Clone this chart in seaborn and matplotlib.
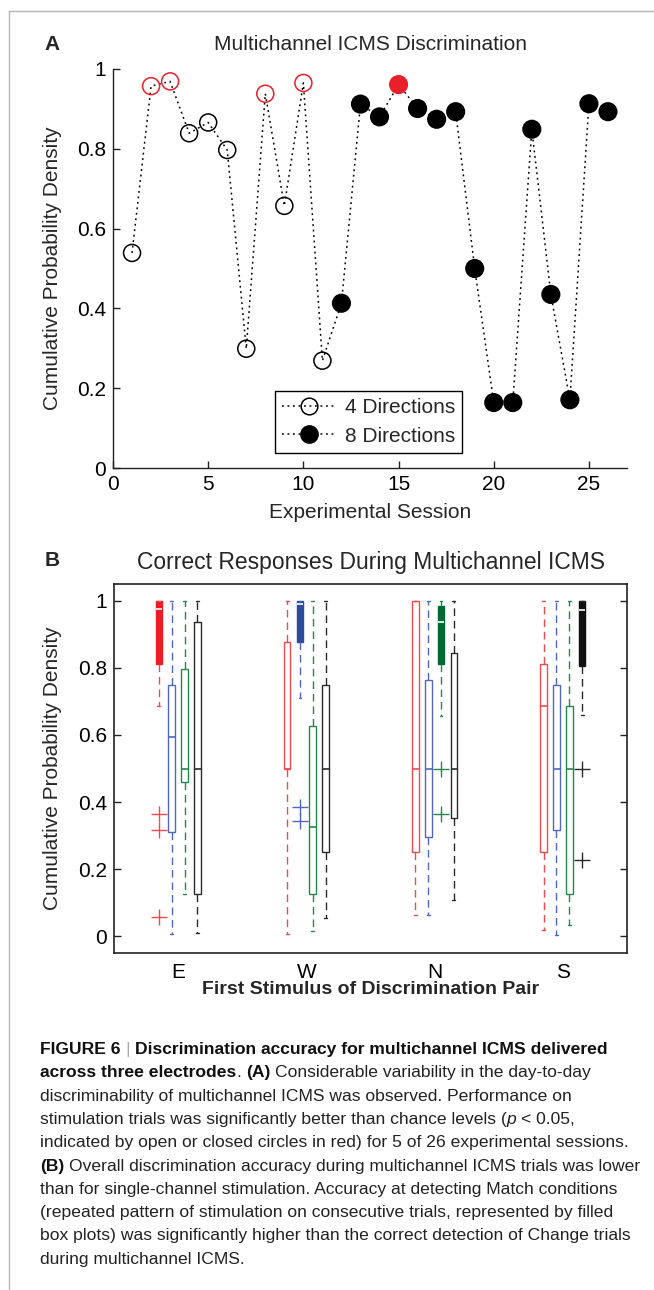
import matplotlib
matplotlib.use("Agg")
import matplotlib.pyplot as plt
import seaborn as sns
from matplotlib.lines import Line2D
from matplotlib.transforms import IdentityTransform

# ---- panel A data -------------------------------------------------------
sessions = [1, 2, 3, 4, 5, 6, 7, 8, 9, 10, 11, 12, 13,
            14, 15, 16, 17, 18, 19, 20, 21, 22, 23, 24, 25, 26]
accuracy = [0.539, 0.957, 0.969, 0.839, 0.866, 0.797, 0.299, 0.938, 0.657,
            0.965, 0.269, 0.413, 0.912, 0.880, 0.961, 0.901, 0.874, 0.893,
            0.500, 0.164, 0.164, 0.849, 0.435, 0.171, 0.913, 0.893]
n_directions = [4, 4, 4, 4, 4, 4, 4, 4, 4, 4, 4, 8, 8,
                8, 8, 8, 8, 8, 8, 8, 8, 8, 8, 8, 8, 8]
significant = [0, 1, 1, 0, 0, 0, 0, 1, 0, 1, 0, 0, 0,
               0, 1, 0, 0, 0, 0, 0, 0, 0, 0, 0, 0, 0]

# ---- panel B data (box stats per second stimulus, across first stimulus) --
first_stim = ["E", "W", "N", "S"]
second_stim = ["E", "W", "N", "S"]
q1 = {"E": [0.811, 0.500, 0.250, 0.250],
      "W": [0.310, 0.876, 0.296, 0.318],
      "N": [0.460, 0.125, 0.813, 0.125],
      "S": [0.125, 0.250, 0.351, 0.805]}
med = {"E": [0.974, 0.500, 0.500, 0.686],
       "W": [0.594, 0.990, 0.500, 0.500],
       "N": [0.500, 0.326, 0.937, 0.500],
       "S": [0.500, 0.500, 0.500, 0.972]}
q3 = {"E": [1.000, 0.876, 1.000, 0.811],
      "W": [0.750, 1.000, 0.765, 0.750],
      "N": [0.798, 0.626, 0.984, 0.686],
      "S": [0.937, 0.750, 0.843, 1.000]}
whis_lo = {"E": [0.686, 0.006, 0.063, 0.018],
           "W": [0.006, 0.709, 0.063, 0.003],
           "N": [0.125, 0.015, 0.656, 0.033],
           "S": [0.010, 0.054, 0.109, 0.659]}
whis_hi = {"E": [1.0, 1.0, 1.0, 1.0],
           "W": [1.0, 1.0, 1.0, 1.0],
           "N": [1.0, 1.0, 1.0, 1.0],
           "S": [1.0, 1.0, 1.0, 1.0]}
outliers = {"E": [[0.363, 0.316, 0.058], [], [], []],
            "W": [[], [0.386, 0.344], [], []],
            "N": [[], [], [0.500, 0.363], []],
            "S": [[], [], [], [0.500, 0.227]]}

line_col = {"E": "#f04a4f", "W": "#5166c6", "N": "#23894a", "S": "#2a2a2a"}
fill_col = {"E": "#ee1c25", "W": "#2d4c9e", "N": "#006a36", "S": "#111111"}

caption = [
    [("FIGURE 6 ", "bold", "normal", "#111"), ("|", "normal", "normal", "#aaa"),
     (" Discrimination accuracy for multichannel ICMS delivered", "bold", "normal", "#111")],
    [("across three electrodes", "bold", "normal", "#111"), (". ", "normal", "normal", "#222"),
     ("(A)", "bold", "normal", "#111"),
     (" Considerable variability in the day-to-day", "normal", "normal", "#222")],
    [("discriminability of multichannel ICMS was observed. Performance on", "normal", "normal", "#222")],
    [("stimulation trials was significantly better than chance levels (", "normal", "normal", "#222"),
     ("p", "normal", "italic", "#222"), (" < 0.05,", "normal", "normal", "#222")],
    [("indicated by open or closed circles in red) for 5 of 26 experimental sessions.", "normal", "normal", "#222")],
    [("(B)", "bold", "normal", "#111"),
     (" Overall discrimination accuracy during multichannel ICMS trials was lower", "normal", "normal", "#222")],
    [("than for single-channel stimulation. Accuracy at detecting Match conditions", "normal", "normal", "#222")],
    [("(repeated pattern of stimulation on consecutive trials, represented by filled", "normal", "normal", "#222")],
    [("box plots) was significantly higher than the correct detection of Change trials", "normal", "normal", "#222")],
    [("during multichannel ICMS.", "normal", "normal", "#222")],
]

# ---- figure ---------------------------------------------------------------
sns.set_theme(style="ticks")
plt.rcParams["font.family"] = ["Liberation Sans", "DejaVu Sans"]
plt.rcParams["axes.edgecolor"] = "#222222"

W, H = 654, 1290
fig = plt.figure(figsize=(W / 100, H / 100), dpi=100)
fig.patch.set_facecolor("white")
PX = IdentityTransform()


def px_axes(left, top, right, bottom):
    return fig.add_axes([left / W, 1 - bottom / H, (right - left) / W, (bottom - top) / H])


def ftext(x, y, s, **kw):
    return fig.text(x, H - y, s, transform=PX, **kw)


FS = 15

# ---- panel A ----------------------------------------------------------------
axA = px_axes(113, 69, 627, 468)
sns.lineplot(x=sessions, y=accuracy, ax=axA, color="black", linewidth=1.1,
             linestyle=(0, (1.2, 2.4)), sort=False, estimator=None)
for open_m in (True, False):
    xs = [s for s, n in zip(sessions, n_directions) if (n == 4) == open_m]
    ys = [a for a, n in zip(accuracy, n_directions) if (n == 4) == open_m]
    cs = ["#e8202a" if g else "black"
          for g, n in zip(significant, n_directions) if (n == 4) == open_m]
    if open_m:
        axA.scatter(xs, ys, s=150, facecolors="none", edgecolors=cs,
                    linewidths=1.1, zorder=3, clip_on=False)
    else:
        axA.scatter(xs, ys, s=190, c=cs, edgecolors="none", zorder=3, clip_on=False)

axA.set_xlim(0, 27)
axA.set_ylim(0, 1)
axA.set_xticks([0, 5, 10, 15, 20, 25])
axA.set_yticks([0, 0.2, 0.4, 0.6, 0.8, 1])
axA.set_yticklabels(["0", "0.2", "0.4", "0.6", "0.8", "1"])
axA.tick_params(direction="in", length=5, width=1, labelsize=FS, pad=5, colors="#222",
                labelcolor="black")
for sp in ("top", "right"):
    axA.spines[sp].set_visible(False)
for sp in ("left", "bottom"):
    axA.spines[sp].set_linewidth(1.0)
axA.set_xlabel("")
axA.set_ylabel("")

handles = [
    Line2D([], [], color="black", linestyle=(0, (1.2, 2.4)), linewidth=1.1,
           marker="o", markersize=12, markerfacecolor="none", markeredgewidth=1.1),
    Line2D([], [], color="black", linestyle=(0, (1.2, 2.4)), linewidth=1.1,
           marker="o", markersize=13.5, markerfacecolor="black", markeredgewidth=0),
]
leg = axA.legend(handles, ["4 Directions", "8 Directions"], loc="lower left",
                 bbox_to_anchor=(0.315, 0.0375), borderaxespad=0, fontsize=FS,
                 fancybox=False, framealpha=1, edgecolor="black",
                 handlelength=2.6, handletextpad=0.4, labelspacing=0.45,
                 borderpad=0.35)
leg.get_frame().set_linewidth(1.0)

ftext(370, 45, "Multichannel ICMS Discrimination", ha="center", va="center", fontsize=FS)
ftext(370, 513, "Experimental Session", ha="center", va="center", fontsize=FS)
ftext(53, 268, "Cumulative Probability Density", ha="center", va="center",
      rotation=90, fontsize=FS)
ftext(52, 44, "A", ha="center", va="center", fontsize=FS, fontweight="bold")

# ---- panel B ----------------------------------------------------------------
axB = px_axes(114, 584, 627, 953)
offsets = [-0.15, -0.05, 0.05, 0.15]
for j, d2 in enumerate(second_stim):
    for g, d1 in enumerate(first_stim):
        stats = [dict(med=med[d2][g], q1=q1[d2][g], q3=q3[d2][g],
                      whislo=whis_lo[d2][g], whishi=whis_hi[d2][g],
                      fliers=outliers[d2][g])]
        filled = d1 == d2
        c = fill_col[d2] if filled else line_col[d2]
        axB.bxp(stats, positions=[g + 1 + offsets[j]],
                widths=0.042 if filled else 0.052, capwidths=0.022,
                patch_artist=True, manage_ticks=False,
                boxprops=dict(facecolor=c if filled else "white", edgecolor=c, linewidth=1.0),
                medianprops=dict(color="white" if filled else c, linewidth=1.2),
                whiskerprops=dict(color=line_col[d2], linewidth=1.0, linestyle=(0, (5.5, 3.5))),
                capprops=dict(color=line_col[d2], linewidth=1.0),
                flierprops=dict(marker="+", markersize=11, markeredgewidth=1.0,
                                markeredgecolor=line_col[d2], linestyle="none"))

axB.set_xlim(0.5, 4.5)
axB.set_ylim(-0.05, 1.05)
axB.set_xticks([1, 2, 3, 4])
axB.set_xticklabels(first_stim)
axB.set_yticks([0, 0.2, 0.4, 0.6, 0.8, 1])
axB.set_yticklabels(["0", "0.2", "0.4", "0.6", "0.8", "1"])
axB.tick_params(axis="y", direction="in", length=5, width=1, left=True, right=True,
                labelsize=FS, pad=5, colors="#222", labelcolor="black")
axB.tick_params(axis="x", length=0, labelsize=FS, pad=7, labelcolor="black")
for sp in axB.spines.values():
    sp.set_linewidth(1.2)

ftext(371, 563, "Correct Responses During Multichannel ICMS", ha="center", va="center",
      fontsize=16.5)
ftext(371, 990, "First Stimulus of Discrimination Pair", ha="center", va="center",
      fontsize=14, fontweight="bold")
ftext(53, 768, "Cumulative Probability Density", ha="center", va="center",
      rotation=90, fontsize=FS)
ftext(52, 561, "B", ha="center", va="center", fontsize=FS, fontweight="bold")

# ---- frame lines ------------------------------------------------------------
fig.add_artist(Line2D([9 / W, 9 / W], [0, 1 - 11 / H], transform=fig.transFigure,
                      color="#b5b5b5", linewidth=1.0))
fig.add_artist(Line2D([9 / W, 1], [1 - 11 / H, 1 - 11 / H], transform=fig.transFigure,
                      color="#b5b5b5", linewidth=1.0))

# ---- caption ----------------------------------------------------------------
renderer = fig.canvas.get_renderer()
CAP_FS = 12.6


def text_w(s, weight, style):
    t = ftext(0, 0, s, fontsize=CAP_FS, fontweight=weight, fontstyle=style)
    w = t.get_window_extent(renderer).width
    t.remove()
    return w


space_w = {}
for wgt in ("normal", "bold"):
    for sty in ("normal", "italic"):
        space_w[(wgt, sty)] = text_w("x x", wgt, sty) - text_w("xx", wgt, sty)

for i, parts in enumerate(caption):
    x = 40
    y = 1054 + 23.3 * i
    for txt, wgt, sty, col in parts:
        lead = len(txt) - len(txt.lstrip(" "))
        trail = len(txt) - len(txt.rstrip(" "))
        x += lead * space_w[(wgt, sty)]
        t = ftext(x, y, txt.strip(" "), fontsize=CAP_FS, fontweight=wgt, fontstyle=sty,
                  color=col, ha="left", va="baseline")
        x = t.get_window_extent(renderer).x1 + trail * space_w[(wgt, sty)]

fig.savefig("out.png", dpi=100, facecolor="white")
